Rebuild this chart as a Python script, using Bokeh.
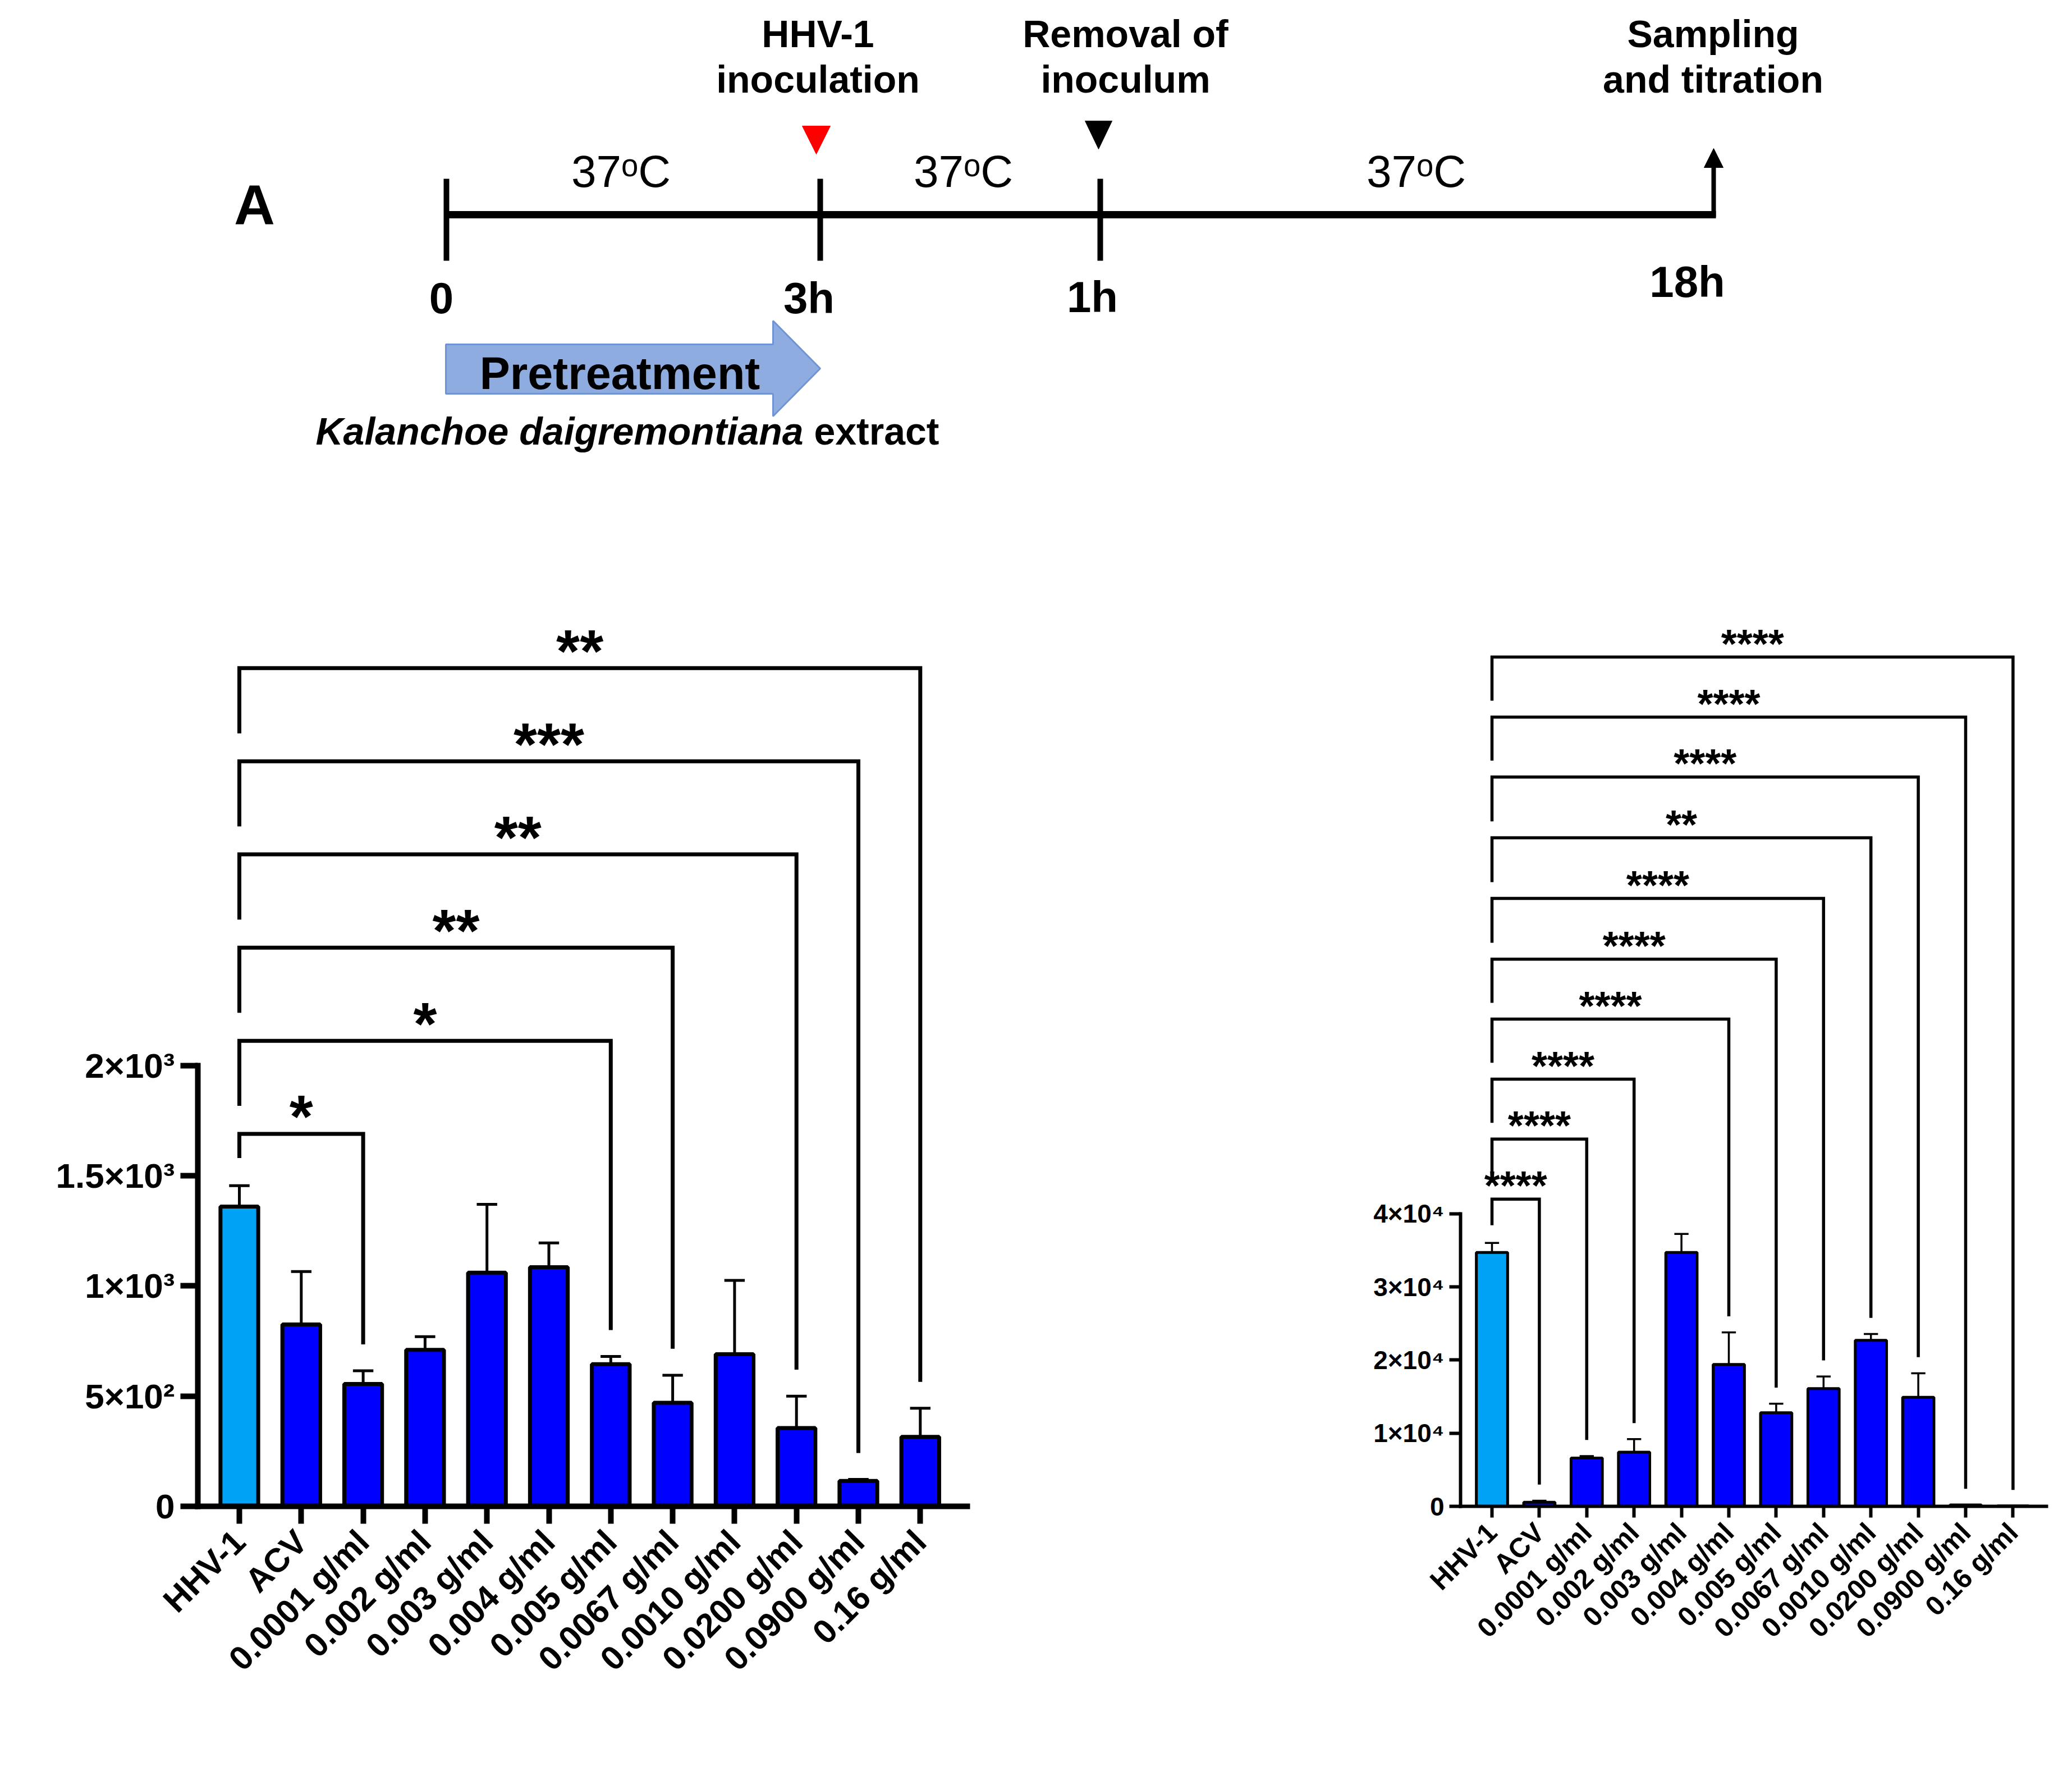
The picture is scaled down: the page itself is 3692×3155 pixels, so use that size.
import numpy as np
from bokeh.plotting import figure
from bokeh.layouts import column, row
from bokeh.models import Range1d, FixedTicker, Label, Arrow, NormalHead
from bokeh.core.properties import value
from bokeh.embed import file_html
from bokeh.resources import INLINE

FONT = "Liberation Sans"
BIAS = 0.28  # alphabetic-baseline correction (fraction of font size)

# ---------------- data ----------------
categories = ["HHV-1", "ACV", "0.0001 g/ml", "0.002 g/ml", "0.003 g/ml", "0.004 g/ml",
              "0.005 g/ml", "0.0067 g/ml", "0.0010 g/ml", "0.0200 g/ml", "0.0900 g/ml", "0.16 g/ml"]

vero_mean = [1360, 825, 555, 710, 1060, 1085, 645, 470, 690, 355, 115, 315]
vero_upper = [1455, 1065, 615, 770, 1370, 1195, 680, 595, 1025, 500, 122, 445]
vero_targets = ["0.0001 g/ml", "0.005 g/ml", "0.0067 g/ml", "0.0200 g/ml", "0.0900 g/ml", "0.16 g/ml"]
vero_stars = ["*", "*", "**", "**", "***", "**"]
vero_bracket_y = [1690, 2112, 2535, 2958, 3380, 3803]
vero_yticks = [0, 500, 1000, 1500, 2000]
vero_yticklabels = ["0", "5×10²", "1×10³", "1.5×10³", "2×10³"]

hacat_mean = [34700, 550, 6600, 7400, 34700, 19400, 12800, 16100, 22700, 14900, 200, 50]
hacat_upper = [36000, 770, 6870, 9180, 37240, 23780, 14030, 17750, 23560, 18190, 200, 50]
hacat_targets = ["ACV", "0.0001 g/ml", "0.002 g/ml", "0.004 g/ml", "0.005 g/ml", "0.0067 g/ml",
                 "0.0010 g/ml", "0.0200 g/ml", "0.0900 g/ml", "0.16 g/ml"]
hacat_stars = ["****", "****", "****", "****", "****", "****", "**", "****", "****", "****"]
hacat_bracket_y = [42000, 50200, 58400, 66600, 74800, 83100, 91400, 99700, 107900, 116100]
hacat_yticks = [0, 10000, 20000, 30000, 40000]
hacat_yticklabels = ["0", "1×10⁴", "2×10⁴", "3×10⁴", "4×10⁴"]

control_color = "#00A2F5"
treat_color = "#0000FF"

PAGE_TOP_ROW = 848
ROW_H = 2290


def add_label(p, frame_left, frame_bottom, x, y, text, size, style="bold", align="center", rotated=False):
    # x, y: intended page position of the text anchor (baseline); converted to frame-relative screen units
    if rotated:
        sx = (x - BIAS * size) - frame_left
        sy = frame_bottom - y
        angle = np.pi / 2
    else:
        sx = x - frame_left
        sy = frame_bottom - (y - BIAS * size)
        angle = 0.0
    p.add_layout(Label(x=sx, y=sy, x_units="screen", y_units="screen",
                       text=text, text_font=FONT, text_font_size=f"{size}px",
                       text_font_style=style, text_align=align, text_baseline="alphabetic",
                       angle=angle, text_color="black"))


def bar_panel(width, page_left, frame_left, frame_right, frame_top, frame_bottom,
              first_px, spacing_px, y_end, means, uppers, targets, stars, bracket_y,
              yticks, yticklabels, axis_top, s):
    x0 = -(first_px - frame_left) / spacing_px
    x1 = x0 + (frame_right - frame_left) / spacing_px
    p = figure(width=width, height=ROW_H, x_range=Range1d(x0, x1), y_range=Range1d(0, y_end),
               toolbar_location=None, output_backend="svg",
               min_border_left=frame_left - page_left,
               min_border_right=page_left + width - frame_right,
               min_border_top=frame_top - PAGE_TOP_ROW,
               min_border_bottom=PAGE_TOP_ROW + ROW_H - frame_bottom)
    p.grid.visible = False
    p.outline_line_color = None
    p.background_fill_color = "white"
    p.border_fill_color = "white"

    xs = list(range(len(categories)))
    colors = [control_color] + [treat_color] * (len(categories) - 1)
    # error bars (upper only)
    ex = [x for x, m, u in zip(xs, means, uppers) if u > m]
    em = [m for m, u in zip(means, uppers) if u > m]
    eu = [u for m, u in zip(means, uppers) if u > m]
    p.segment(x0=ex, y0=em, x1=ex, y1=eu, line_color="black", line_width=s["err_w"])
    p.segment(x0=[x - s["cap"] / 2 for x in ex], y0=eu, x1=[x + s["cap"] / 2 for x in ex], y1=eu,
              line_color="black", line_width=s["err_w"])
    p.vbar(x=xs, top=means, bottom=0, width=s["bar_w"], fill_color=colors,
           line_color="black", line_width=s["bar_line"])

    # significance brackets
    bxs, bys = [], []
    for i, (t, y) in enumerate(zip(targets, bracket_y)):
        j = categories.index(t)
        left_bottom = y - s["first_leg"] if i == 0 else bracket_y[i - 1] + s["leg_gap"]
        right_bottom = uppers[j] + s["right_gap"]
        bxs.append([0, 0, j, j])
        bys.append([left_bottom, y, y, right_bottom])
    p.multi_line(xs=bxs, ys=bys, line_color="black", line_width=s["br_w"], line_join="miter")
    mids = [categories.index(t) / 2 for t in targets]
    p.text(x=mids, y=[y + s["star_lift"] for y in bracket_y], text=stars,
           text_font=value(FONT), text_font_size=value(s["star_size"]), text_font_style="bold",
           text_align="center", text_baseline="alphabetic", text_color="black")

    # axes
    xa, ya = p.xaxis[0], p.yaxis[0]
    for ax in (xa, ya):
        ax.axis_line_width = s["axis_w"]
        ax.axis_line_color = "black"
        ax.major_tick_line_width = s["axis_w"]
        ax.major_tick_line_color = "black"
        ax.major_tick_in = 0
        ax.major_tick_out = s["tick_out"]
        ax.minor_tick_line_color = None
        ax.major_label_text_font = FONT
        ax.major_label_text_font_style = "bold"
        ax.major_label_text_color = "black"
        ax.axis_line_cap = "square"
    ya.ticker = FixedTicker(ticks=yticks)
    ya.major_label_overrides = {t: l for t, l in zip(yticks, yticklabels)}
    ya.major_label_text_font_size = s["ytick_size"]
    ya.major_label_standoff = s["ystand"]
    ya.bounds = (0, axis_top)
    xa.ticker = FixedTicker(ticks=list(range(len(categories))))
    xa.major_label_overrides = {i: c for i, c in enumerate(categories)}
    xa.major_label_orientation = np.pi / 4
    xa.major_label_text_font_size = s["xtick_size"]
    xa.major_label_standoff = s["xstand"]
    return p


# ---------------- panel A (schematic) ----------------
A_H = 840
pa = figure(width=3676, height=A_H, x_range=Range1d(8, 3684), y_range=Range1d(0, A_H),
            toolbar_location=None, output_backend="svg", min_border=0,
            x_axis_location=None, y_axis_location=None)
pa.grid.visible = False
pa.outline_line_color = None


def Y(img_y):
    # image-pixel row -> data y of panel A
    return 8 + A_H - img_y


line_y = 390
tick_x = [803, 1469, 1968]
end_x = 3061
pa.segment(x0=[tick_x[0]], y0=[Y(line_y)], x1=[end_x + 4], y1=[Y(line_y)], line_color="black", line_width=13)
pa.segment(x0=tick_x, y0=[Y(326)] * 3, x1=tick_x, y1=[Y(472)] * 3, line_color="black", line_width=10)
pa.add_layout(Arrow(end=NormalHead(size=34, fill_color="black", line_color="black"),
                    x_start=end_x, y_start=Y(line_y + 4), x_end=end_x, y_end=Y(272),
                    line_color="black", line_width=8))
pa.patch(x=[1437, 1487, 1462], y=[Y(232), Y(232), Y(282)], fill_color="#FF0000", line_color="#FF0000")
pa.patch(x=[1941, 1989, 1965], y=[Y(223), Y(223), Y(273)], fill_color="black", line_color="black")
pa.patch(x=[802, 1385, 1385, 1469, 1385, 1385, 802],
         y=[Y(v) for v in [621, 621, 579, 664, 749, 709, 709]],
         fill_color="#8FACE0", line_color="#6E94D4", line_width=3)


def ttext(x, y, t, size, style="bold", align="center"):
    pa.text(x=[x], y=[Y(y - BIAS * size)], text=[t], text_font=value(FONT),
            text_font_size=value(f"{size}px"), text_font_style=style, text_align=align,
            text_baseline="alphabetic", text_color="black")


ttext(461, 401, "A", 101)
for cx in [1114, 1724, 2531]:
    ttext(cx, 335, "37ᵒC", 80, style="normal")
for cx, l1, l2 in [(1465, "HHV-1", "inoculation"), (2013, "Removal of", "inoculum"),
                   (3060, "Sampling", "and titration")]:
    ttext(cx, 87, l1, 68)
    ttext(cx, 168, l2, 68)
for cx, by, t in [(794, 560, "0"), (1449, 560, "3h"), (1954, 558, "1h"), (3014, 531, "18h")]:
    ttext(cx, by, t, 78)
ttext(1112, 695, "Pretreatment", 81)
ttext(570, 795, "Kalanchoe daigremontiana", 68, style="bold italic", align="left")
ttext(1681, 795, "extract", 68, align="right")

# ---------------- panel B ----------------
B_FL, B_FB = 360, 2691
sB = dict(err_w=5, cap=0.33, bar_w=0.61, bar_line=7, first_leg=110, leg_gap=127, right_gap=120,
          br_w=7, star_lift=79, star_size="108px", axis_w=10, tick_out=31, ytick_size="62px",
          ystand=10, xtick_size="60px", xstand=22)
pB = bar_panel(1892, 8, B_FL, 1731, 1100, B_FB, 434, 110.3, 4052, vero_mean, vero_upper,
               vero_targets, vero_stars, vero_bracket_y, vero_yticks, vero_yticklabels, 2000, sB)
add_label(pB, B_FL, B_FB, 142, 997, "B", 92)
add_label(pB, B_FL, B_FB, 1061, 997, "Vero 76 cell line", 102)
add_label(pB, B_FL, B_FB, 86, 2303, "copies HHV-1/ng DNA", 52, rotated=True)
add_label(pB, B_FL, B_FB, 343, 3085, "Kalanchoe daigremontiana", 68, style="bold italic", align="left")
add_label(pB, B_FL, B_FB, 1458, 3085, "extract", 68, align="right")

# ---------------- panel C ----------------
C_FL, C_FB = 2610, 2716
sC = dict(err_w=3.5, cap=0.30, bar_w=0.66, bar_line=5, first_leg=3580, leg_gap=2240, right_gap=2200,
          br_w=5.5, star_lift=1830, star_size="72px", axis_w=6, tick_out=20, ytick_size="46px",
          ystand=9, xtick_size="49px", xstand=18)
pC = bar_panel(1784, 1900, C_FL, 3654, 1080, C_FB, 2666, 84.4, 122090, hacat_mean, hacat_upper,
               hacat_targets, hacat_stars, hacat_bracket_y, hacat_yticks, hacat_yticklabels, 40000, sC)
add_label(pC, C_FL, C_FB, 2451, 1000, "C", 92)
add_label(pC, C_FL, C_FB, 3134, 997, "HaCat cell line", 102)
add_label(pC, C_FL, C_FB, 2414, 2437, "copies HHV-1/ng DNA", 36, rotated=True)
add_label(pC, C_FL, C_FB, 2540, 3112, "Kalanchoe daigremontiana", 68, style="bold italic", align="left")
add_label(pC, C_FL, C_FB, 3649, 3112, "extract", 68, align="right")

layout = column(pa, row(pB, pC))
open("out.html", "w").write(file_html(layout, INLINE))
